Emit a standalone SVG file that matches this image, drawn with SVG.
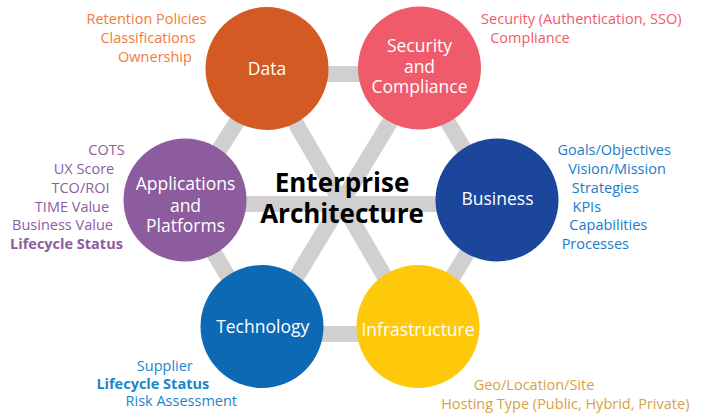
<svg xmlns="http://www.w3.org/2000/svg" width="705" height="414" viewBox="0 0 705 414">
<style>
.bar{stroke:#d1cfcf;stroke-width:16;fill:none}
.node-label{font-family:"Open Sans","Noto Sans",sans-serif;font-size:17.5px;fill:#ffffff;text-anchor:middle}
.lbl{font-family:"Open Sans","Noto Sans",sans-serif;font-size:14.5px;text-anchor:middle}
.b{font-weight:bold}
.title{font-family:"Open Sans","Noto Sans",sans-serif;font-size:26px;font-weight:bold;fill:#000;text-anchor:middle}
</style>
<rect width="705" height="414" fill="#ffffff"/>
<g id="connectors">
<line class="bar" x1="267" y1="74" x2="419" y2="74"/>
<line class="bar" x1="419" y1="74" x2="497" y2="204"/>
<line class="bar" x1="497" y1="204" x2="418" y2="334"/>
<line class="bar" x1="418" y1="334" x2="262" y2="334"/>
<line class="bar" x1="262" y1="334" x2="185" y2="204"/>
<line class="bar" x1="185" y1="204" x2="267" y2="74"/>
<line class="bar" x1="267" y1="74" x2="418" y2="334"/>
<line class="bar" x1="419" y1="74" x2="262" y2="334"/>
<line class="bar" x1="185" y1="204" x2="497" y2="204"/>
</g>
<g id="center">
<text class="title"><tspan x="342" y="192">Enterprise</tspan><tspan x="342" y="223">Architecture</tspan></text>
</g>
<g id="data">
<circle cx="267" cy="68.5" r="61.5" fill="#d35a22"/>
<text class="node-label" x="267" y="75">Data</text>
<text class="lbl" fill="#f47a3a"><tspan x="146.5" y="24">Retention Policies</tspan><tspan x="148" y="42.7">Classifications</tspan><tspan x="155" y="61.7">Ownership</tspan></text>
</g>
<g id="security">
<circle cx="419.5" cy="68" r="61.5" fill="#ef5b6b"/>
<text class="node-label"><tspan x="419.5" y="51.5">Security</tspan><tspan x="419.5" y="72.5">and</tspan><tspan x="419.5" y="92.5">Compliance</tspan></text>
<text class="lbl" fill="#ef5b6b"><tspan x="581.3" y="24">Security (Authentication, SSO)</tspan><tspan x="530" y="42.7">Compliance</tspan></text>
</g>
<g id="applications">
<circle cx="185" cy="200" r="61.5" fill="#8d5c9f"/>
<text class="node-label"><tspan x="185.5" y="190">Applications</tspan><tspan x="185.5" y="211.5">and</tspan><tspan x="185.5" y="231.5">Platforms</tspan></text>
<text class="lbl" fill="#8d5c9f"><tspan x="106.5" y="155">COTS</tspan><tspan x="84" y="174.3">UX Score</tspan><tspan x="80.5" y="193.3">TCO/ROI</tspan><tspan x="72" y="211.7">TIME Value</tspan><tspan x="62.5" y="230">Business Value</tspan><tspan class="b" x="66.5" y="249">Lifecycle Status</tspan></text>
</g>
<g id="business">
<circle cx="497" cy="200" r="61.5" fill="#1b469b"/>
<text class="node-label" x="497.5" y="205">Business</text>
<text class="lbl" fill="#1a7cc9"><tspan x="614.2" y="155">Goals/Objectives</tspan><tspan x="617" y="174">Vision/Mission</tspan><tspan x="605.3" y="193">Strategies</tspan><tspan x="586.8" y="211.7">KPIs</tspan><tspan x="608.3" y="230">Capabilities</tspan><tspan x="595.3" y="249">Processes</tspan></text>
</g>
<g id="technology">
<circle cx="262" cy="326.5" r="61.5" fill="#0d69b4"/>
<text class="node-label" x="262.7" y="332.7">Technology</text>
<text class="lbl" fill="#1a86cc"><tspan x="164.8" y="370.7">Supplier</tspan><tspan class="b" x="152.8" y="388.5">Lifecycle Status</tspan><tspan x="181.3" y="406">Risk Assessment</tspan></text>
</g>
<g id="infrastructure">
<circle cx="418" cy="326.5" r="61.5" fill="#fec90b"/>
<text class="node-label" x="418" y="336">Infrastructure</text>
<text class="lbl" fill="#d8a149"><tspan x="534" y="390">Geo/Location/Site</tspan><tspan x="565.3" y="409">Hosting Type (Public, Hybrid, Private)</tspan></text>
</g>
</svg>
